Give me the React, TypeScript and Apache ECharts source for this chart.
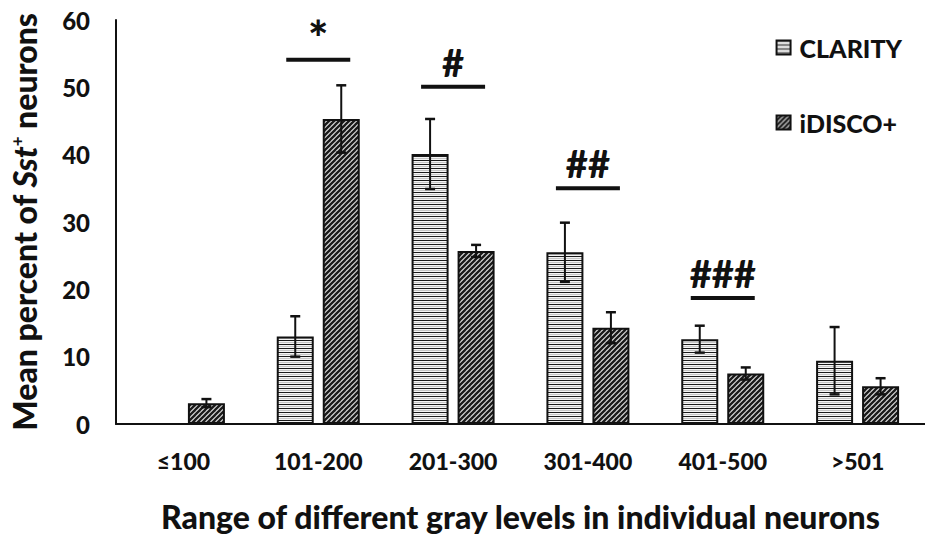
import React, { useEffect, useRef } from "react";
import * as echarts from "echarts";

const categories = ["≤100", "101-200", "201-300", "301-400", "401-500", ">501"];
const seriesNames = ["CLARITY", "iDISCO+"];
const clarityValues = [0, 13.0, 40.1, 25.5, 12.6, 9.4];
const clarityErrors = [0, 3.0, 5.2, 4.4, 2.0, 5.0];
const idiscoValues = [3.1, 45.3, 25.7, 14.3, 7.5, 5.6];
const idiscoErrors = [0.6, 5.0, 0.9, 2.3, 0.9, 1.2];
const sigCategoryIndex = [1, 2, 3, 4];
const sigLevels = [54.1, 50.1, 35.0, 18.7];
const sigLabels = ["*", "#", "##", "###"];

const FONT = "Lato";
const W = 900;
const BAR_W = 37;
const BAR_GAP = 9;

function makeStripe(): string {
  const c = document.createElement("canvas");
  c.width = 8;
  c.height = 4;
  const ctx = c.getContext("2d")!;
  ctx.fillStyle = "#f4f4f4";
  ctx.fillRect(0, 0, 8, 4);
  ctx.fillStyle = "#c4c4c4";
  ctx.fillRect(0, 2, 8, 1);
  ctx.fillStyle = "#1a1a1a";
  ctx.fillRect(0, 0, 8, 1);
  return c.toDataURL();
}

function makeHatch(): string {
  const s = 5;
  const c = document.createElement("canvas");
  c.width = s;
  c.height = s;
  const ctx = c.getContext("2d")!;
  ctx.fillStyle = "#e0e0e0";
  ctx.fillRect(0, 0, s, s);
  ctx.strokeStyle = "#1a1a1a";
  ctx.lineWidth = 2.3;
  for (let k = -1; k <= 1; k++) {
    ctx.beginPath();
    ctx.moveTo(k * s - 1, s + 1);
    ctx.lineTo(k * s + s + 1, -1);
    ctx.stroke();
  }
  return c.toDataURL();
}

export default function App() {
  const ref = useRef<HTMLDivElement>(null);
  useEffect(() => {
    if (!ref.current) return;
    const chart = echarts.init(ref.current, undefined, { renderer: "svg" });
    const stripe = { image: makeStripe(), repeat: "repeat" };
    const hatch = { image: makeHatch(), repeat: "repeat" };

    const errSeries = (vals: number[], errs: number[], offset: number) => ({
      type: "custom",
      z: 5,
      silent: true,
      data: vals.map((v, i) => [i, v, errs[i]]),
      renderItem: (params: any, api: any) => {
        const i = api.value(0);
        const v = api.value(1);
        const e = api.value(2);
        if (!e) return null;
        const top = api.coord([i, v + e]);
        const bot = api.coord([i, v - e]);
        const x = top[0] + offset;
        const st = { stroke: "#111", lineWidth: 2 };
        return {
          type: "group",
          children: [
            { type: "line", shape: { x1: x, y1: top[1], x2: x, y2: bot[1] }, style: st },
            { type: "line", shape: { x1: x - 5, y1: top[1], x2: x + 5, y2: top[1] }, style: { ...st, lineWidth: 2.5 } },
            { type: "line", shape: { x1: x - 5, y1: bot[1], x2: x + 5, y2: bot[1] }, style: { ...st, lineWidth: 2.5 } },
          ],
        };
      },
    });

    const half = (BAR_W + BAR_GAP) / 2;

    chart.setOption({
      animation: false,
      grid: { left: 116, top: 20, width: 819, bottom: 109, containLabel: false },
      legend: {
        orient: "vertical",
        right: 18,
        top: 30,
        itemGap: 50,
        itemWidth: 14,
        itemHeight: 14,
        icon: "rect",
        textStyle: { fontFamily: FONT, fontWeight: W, fontSize: 25, color: "#111", padding: [0, 0, 0, 4] },
        data: seriesNames,
      },
      xAxis: {
        type: "category",
        data: categories,
        axisLine: { lineStyle: { color: "#111", width: 2 } },
        axisTick: { show: false },
        axisLabel: { fontFamily: FONT, fontWeight: W, fontSize: 23, color: "#111", margin: 25 },
        name: "Range of different gray levels in individual neurons",
        nameLocation: "middle",
        nameGap: 76,
        nameTextStyle: { fontFamily: FONT, fontWeight: W, fontSize: 32, color: "#111" },
      },
      yAxis: {
        type: "value",
        min: 0,
        max: 60,
        interval: 10,
        splitLine: { show: false },
        axisLine: { show: true, lineStyle: { color: "#111", width: 2 } },
        axisTick: { show: false },
        axisLabel: { fontFamily: FONT, fontWeight: W, fontSize: 24, color: "#111", margin: 26 },
        name: "Mean percent of {i|Sst}{sup|+} neurons",
        nameLocation: "middle",
        nameRotate: 90,
        nameGap: 76,
        nameTextStyle: {
          fontFamily: FONT,
          fontWeight: W,
          fontSize: 32,
          color: "#111",
          rich: {
            i: { fontFamily: FONT, fontWeight: W, fontStyle: "italic", fontSize: 32, color: "#111" },
            sup: { fontFamily: FONT, fontWeight: W, fontSize: 17, color: "#111", verticalAlign: "top", padding: [0, 0, 14, 0] },
          },
        },
      },
      series: [
        {
          name: seriesNames[0],
          type: "bar",
          data: clarityValues,
          barWidth: BAR_W,
          barGap: `${(BAR_GAP / BAR_W) * 100}%`,
          itemStyle: { color: stripe, borderColor: "#111", borderWidth: 2 },
        },
        {
          name: seriesNames[1],
          type: "bar",
          data: idiscoValues,
          barWidth: BAR_W,
          itemStyle: { color: hatch, borderColor: "#111", borderWidth: 2 },
        },
        errSeries(clarityValues, clarityErrors, -half),
        errSeries(idiscoValues, idiscoErrors, half),
        {
          type: "custom",
          z: 6,
          silent: true,
          data: sigCategoryIndex.map((c, k) => [c, sigLevels[k], k]),
          renderItem: (params: any, api: any) => {
            const c = api.value(0);
            const lvl = api.value(1);
            const k = api.value(2);
            const p = api.coord([c, lvl]);
            const label = sigLabels[k];
            return {
              type: "group",
              children: [
                { type: "line", shape: { x1: p[0] - 32, y1: p[1], x2: p[0] + 32, y2: p[1] }, style: { stroke: "#111", lineWidth: 4 } },
                {
                  type: "text",
                  x: p[0],
                  y: label === "*" ? p[1] + 2 : p[1] - 6,
                  style: {
                    text: label,
                    fontFamily: FONT,
                    fontWeight: W,
                    fontSize: label === "*" ? 48 : 38,
                    fill: "#111",
                    align: "center",
                    verticalAlign: "bottom",
                  },
                },
              ],
            };
          },
        },
      ],
    });
    return () => chart.dispose();
  }, []);
  return <div ref={ref} style={{ position: "absolute", left: 0, top: 0, width: 925, height: 537, background: "#fff" }} />;
}
